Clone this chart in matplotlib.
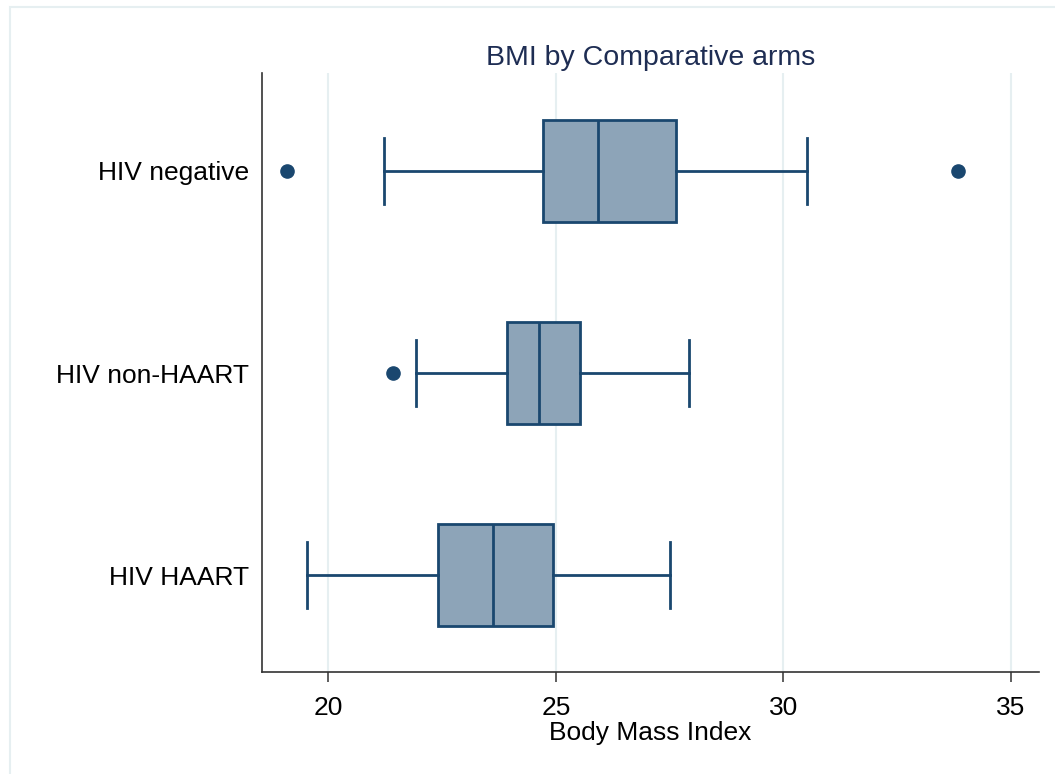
import matplotlib.pyplot as plt
from matplotlib.patches import Rectangle

plt.rcParams['font.family'] = ['Liberation Sans', 'DejaVu Sans']

# summary statistics (BMI)
arms = ["HIV negative", "HIV non-HAART", "HIV HAART"]
whisker_lo = [21.22, 21.92, 19.52]
q1 = [24.71, 23.92, 22.41]
median = [25.92, 24.63, 23.62]
q3 = [27.64, 25.53, 24.93]
whisker_hi = [30.52, 27.92, 27.50]
outliers = [[19.09, 33.84], [21.42], []]
xticks = [20, 25, 30, 35]

navy = "#1A476F"
fill = "#8DA4B8"
grid = "#E6EFF1"

stats = []
for i, name in enumerate(arms):
    stats.append({
        "label": name,
        "whislo": whisker_lo[i],
        "q1": q1[i],
        "med": median[i],
        "q3": q3[i],
        "whishi": whisker_hi[i],
        "fliers": outliers[i],
    })

fig = plt.figure(figsize=(10.55, 7.74), dpi=100)
fig.patches.append(Rectangle((10 / 1055, -0.1), 1.2, 1 - 7 / 774 + 0.1,
                             transform=fig.transFigure, fill=False,
                             edgecolor=grid, linewidth=1.5))
ax = fig.add_axes([262 / 1055, 1 - 672 / 774, (1039 - 262) / 1055, (672 - 73) / 774])

lw = 2.0
ax.bxp(stats, positions=[1, 2, 3], vert=False, widths=0.505, capwidths=0.33,
       patch_artist=True,
       boxprops=dict(facecolor=fill, edgecolor=navy, linewidth=lw),
       medianprops=dict(color=navy, linewidth=lw),
       whiskerprops=dict(color=navy, linewidth=lw),
       capprops=dict(color=navy, linewidth=lw),
       flierprops=dict(marker="o", markerfacecolor=navy, markeredgecolor=navy,
                       markersize=9.5, linestyle="none"))

ax.set_xlim(18.54, 35.62)
ax.set_ylim(3.48, 0.515)
ax.set_xticks(xticks)
ax.set_xticklabels([str(t) for t in xticks])
ax.set_yticks([1, 2, 3])
ax.set_yticklabels(arms)

ax.grid(axis="x", color=grid, linewidth=1.5)
ax.set_axisbelow(True)

for side in ["top", "right"]:
    ax.spines[side].set_visible(False)
for side in ["left", "bottom"]:
    ax.spines[side].set_color("#333333")
    ax.spines[side].set_linewidth(1.2)

ax.tick_params(axis="x", length=7, width=1.1, color="#333333", labelsize=19, pad=10)
ax.tick_params(axis="y", length=0, labelsize=19, pad=9)

ax.set_xlabel("Body Mass Index", fontsize=19, labelpad=1)
ax.set_title("BMI by Comparative arms", fontsize=20.5, color="#1E2D53", pad=6)

fig.savefig("out.png", dpi=100)
